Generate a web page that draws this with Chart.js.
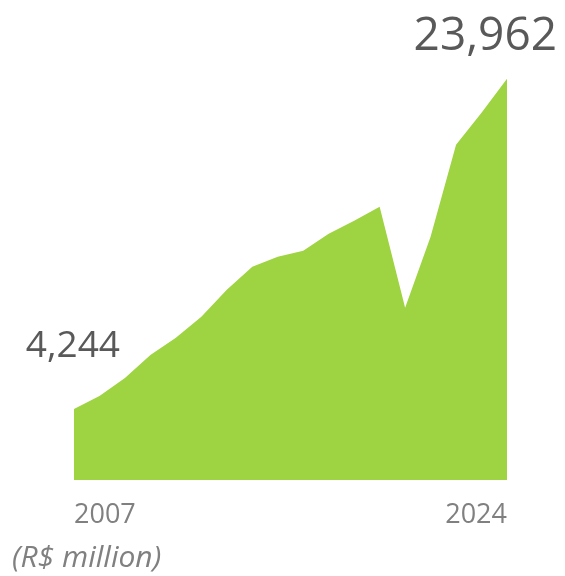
<!DOCTYPE html>
<html lang="en">
<head>
    <meta charset="UTF-8">
    <title>Revenue 2007-2024</title>
    <script src="https://cdn.jsdelivr.net/npm/chart.js"></script>
    <style>
        html, body { margin: 0; padding: 0; background: #fff; }
        #wrap { width: 565px; height: 576px; position: relative; }
    </style>
</head>
<body>
    <div id="wrap"><canvas id="revChart" width="565" height="576"></canvas></div>

    <script>
        // yearly values, R$ million
        const years = ["2007","2008","2009","2010","2011","2012","2013","2014","2015",
                       "2016","2017","2018","2019","2020","2021","2022","2023","2024"];
        const revenue = [4244, 5020, 6095, 7470, 8486, 9741, 11354, 12729, 13326,
                         13685, 14700, 15478, 16314, 10279, 14522, 20020, 21932, 23962];
        const shownYears = ["2007", "2024"];
        const unitLabel = "(R$ million)";

        const fmt = v => v.toLocaleString("en-US");

        // first/last value labels, end years and unit note
        const labelsPlugin = {
            id: "endLabels",
            afterDraw(chart) {
                const ctx = chart.ctx;
                const xs = chart.scales.x, ys = chart.scales.y;
                const first = 0, last = revenue.length - 1;
                ctx.save();
                ctx.fillStyle = "#595959";
                ctx.textBaseline = "alphabetic";

                ctx.font = "37px 'Open Sans'";
                ctx.textAlign = "right";
                ctx.fillText(fmt(revenue[first]), xs.getPixelForValue(first) + 46, ys.getPixelForValue(revenue[first]) - 52);

                ctx.font = "46px 'Open Sans'";
                ctx.fillText(fmt(revenue[last]), xs.getPixelForValue(last) + 50, ys.getPixelForValue(revenue[last]) - 29);

                ctx.fillStyle = "#808080";
                ctx.font = "27px 'Open Sans'";
                const bottom = chart.chartArea.bottom;
                ctx.textAlign = "left";
                ctx.fillText(shownYears[0], xs.getPixelForValue(first), bottom + 43);
                ctx.textAlign = "right";
                ctx.fillText(shownYears[1], xs.getPixelForValue(last), bottom + 43);

                ctx.textAlign = "left";
                ctx.font = "italic 30px 'Open Sans'";
                ctx.fillText(unitLabel, 12, bottom + 87);
                ctx.restore();
            }
        };

        new Chart(document.getElementById("revChart"), {
            type: "line",
            data: {
                labels: years,
                datasets: [{
                    data: revenue,
                    fill: "origin",
                    backgroundColor: "#9ed341",
                    borderWidth: 0,
                    pointRadius: 0,
                    tension: 0
                }]
            },
            options: {
                responsive: false,
                animation: false,
                layout: { padding: { left: 74, right: 58, top: 78, bottom: 96 } },
                plugins: { legend: { display: false }, tooltip: { enabled: false } },
                scales: {
                    x: { display: false, offset: false },
                    y: { display: false, min: 0, max: 24000 }
                }
            },
            plugins: [labelsPlugin]
        });
    </script>
</body>
</html>
